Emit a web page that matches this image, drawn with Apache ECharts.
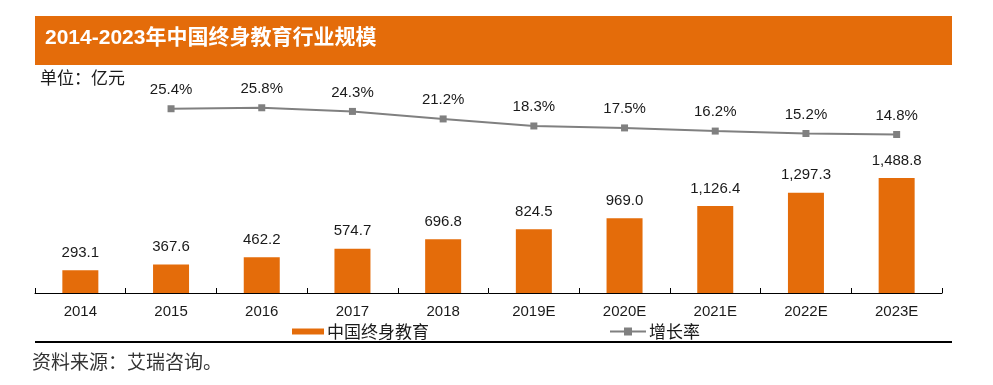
<!DOCTYPE html>
<html>
<head>
<meta charset="utf-8">
<script src="https://cdn.jsdelivr.net/npm/echarts@6/dist/echarts.min.js"></script>
<style>
html,body{margin:0;padding:0;background:#fff;}
#main{width:993px;height:385px;}
</style>
</head>
<body>
<div id="main"></div>
<script>
const categories = ['2014','2015','2016','2017','2018','2019E','2020E','2021E','2022E','2023E'];
const scaleValues = [293.1,367.6,462.2,574.7,696.8,824.5,969.0,1126.4,1297.3,1488.8];
const growthValues = [null,25.4,25.8,24.3,21.2,18.3,17.5,16.2,15.2,14.8];
const barName = '中国终身教育';
const lineName = '增长率';
const titleText = '2014-2023年中国终身教育行业规模';
const unitText = '单位：亿元';
const sourceText = '资料来源：艾瑞咨询。';

const ORANGE = '#E46C0A';
const GRAY = '#808080';
const FONT = '"Liberation Sans", Arial, "Noto Sans CJK SC", sans-serif';
const CJK = '"Noto Sans CJK SC", sans-serif';

const chart = echarts.init(document.getElementById('main'), null, {renderer:'canvas'});
chart.setOption({
  animation: false,
  backgroundColor: '#fff',
  grid: {left: 35, right: 51, top: 100, bottom: 92, containLabel: false},
  xAxis: {
    type: 'category',
    data: categories,
    axisLine: {show: true, lineStyle: {color: '#000', width: 1}},
    axisTick: {show: true, inside: true, length: 5, lineStyle: {color: '#000'}},
    axisLabel: {color: '#1a1a1a', fontSize: 15, fontFamily: FONT, margin: 11}
  },
  yAxis: [
    {type: 'value', min: 0, max: 2500, show: false, splitLine: {show: false}},
    {type: 'value', min: -50.5, max: 29, show: false, splitLine: {show: false}}
  ],
  legend: [
    {
      data: [barName], left: 287, top: 318, itemWidth: 32, itemHeight: 6,
      itemStyle: {borderWidth: 0},
      textStyle: {fontSize: 17, fontFamily: CJK, color: '#1a1a1a', padding: [0,0,0,-2]},
      icon: 'rect'
    },
    {
      data: [lineName], left: 604, top: 318, itemWidth: 36, itemHeight: 10,
      textStyle: {fontSize: 17, fontFamily: CJK, color: '#1a1a1a', padding: [0,0,0,-2]}
    }
  ],
  series: [
    {
      name: barName, type: 'bar', data: scaleValues, barWidth: 36, yAxisIndex: 0,
      itemStyle: {color: ORANGE},
      label: {
        show: true, position: 'top', distance: 10, color: '#1a1a1a', fontSize: 15, fontFamily: FONT,
        formatter: p => p.value.toLocaleString('en-US', {minimumFractionDigits: 1, maximumFractionDigits: 1})
      }
    },
    {
      name: lineName, type: 'line', data: growthValues, yAxisIndex: 1,
      symbol: 'rect', symbolSize: 7,
      lineStyle: {color: GRAY, width: 2},
      itemStyle: {color: GRAY},
      label: {
        show: true, position: 'top', distance: 8, color: '#1a1a1a', fontSize: 15, fontFamily: FONT,
        formatter: p => p.value.toFixed(1) + '%'
      }
    }
  ],
  graphic: [
    {type: 'rect', shape: {x: 35, y: 16, width: 917, height: 49}, style: {fill: ORANGE}, silent: true},
    {type: 'text', left: 45, top: 28, style: {text: titleText, fill: '#fff', font: 'bold 21px "Liberation Sans", Arial, "Noto Sans CJK SC", sans-serif'}},
    {type: 'text', left: 40, top: 69, style: {text: unitText, fill: '#1a1a1a', font: '17px "Noto Sans CJK SC", sans-serif'}},
    {type: 'rect', shape: {x: 35, y: 341, width: 917, height: 2}, style: {fill: '#000'}, silent: true},
    {type: 'text', left: 32, top: 352, style: {text: sourceText, fill: '#333', font: '19px "Noto Sans CJK SC", sans-serif'}}
  ]
});
</script>
</body>
</html>
